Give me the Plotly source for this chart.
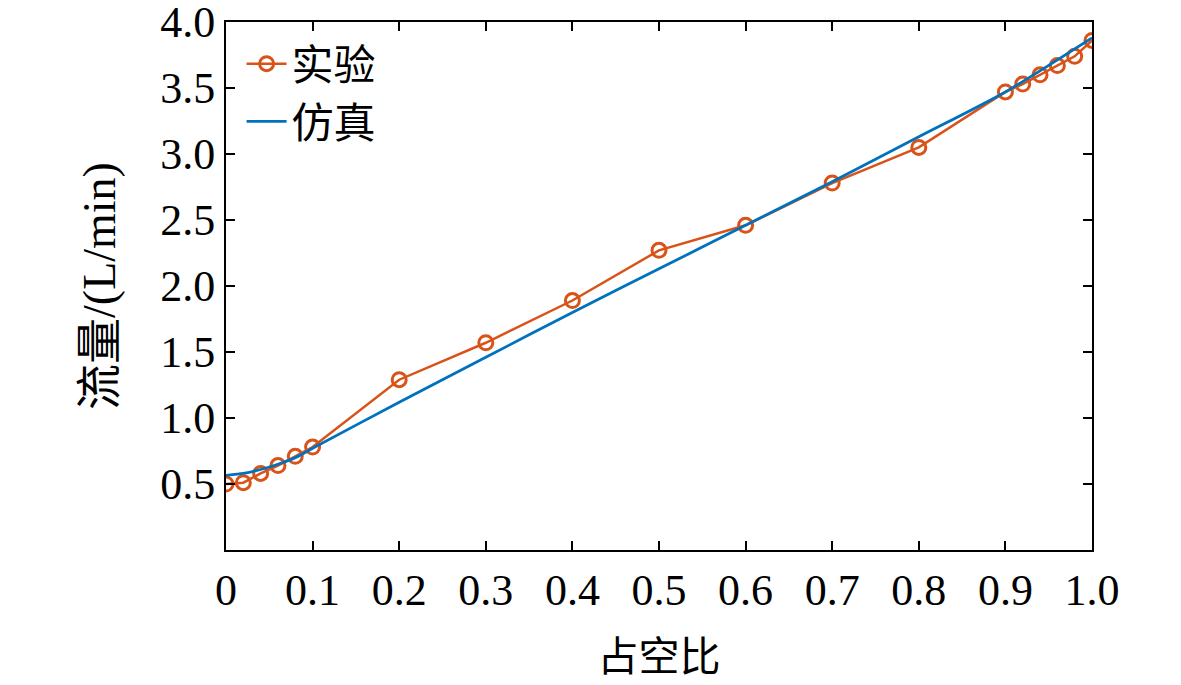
import plotly.graph_objects as go

# 实验数据
exp_x = [0, 0.02, 0.04, 0.06, 0.08, 0.1, 0.2, 0.3, 0.4, 0.5, 0.6, 0.7, 0.8,
         0.9, 0.92, 0.94, 0.96, 0.98, 1.0]
exp_y = [0.50, 0.51, 0.58, 0.64, 0.71, 0.78, 1.29, 1.57, 1.89, 2.27, 2.46, 2.78, 3.05,
         3.47, 3.53, 3.60, 3.67, 3.74, 3.86]

# 仿真数据
sim_x = [0, 0.02, 0.04, 0.06, 0.08, 0.1, 0.2, 0.3, 0.4, 0.5, 0.6, 0.7, 0.8, 0.9, 1.0]
sim_y = [0.565, 0.58, 0.61, 0.65, 0.70, 0.77, 1.12, 1.46, 1.80, 2.13, 2.46, 2.79, 3.13, 3.47, 3.88]

x_ticks = [0, 0.1, 0.2, 0.3, 0.4, 0.5, 0.6, 0.7, 0.8, 0.9, 1.0]
x_labels = ["0", "0.1", "0.2", "0.3", "0.4", "0.5", "0.6", "0.7", "0.8", "0.9", "1.0"]
y_ticks = [0.5, 1.0, 1.5, 2.0, 2.5, 3.0, 3.5, 4.0]
y_labels = ["0.5", "1.0", "1.5", "2.0", "2.5", "3.0", "3.5", "4.0"]

orange = "#D95319"
blue = "#0072BD"
font_fam = "Liberation Serif, Noto Sans CJK SC"

fig = go.Figure()
fig.add_trace(go.Scatter(
    x=exp_x, y=exp_y, name="实验", mode="lines+markers",
    line=dict(color=orange, width=2.5),
    marker=dict(symbol="circle-open", size=14, color=orange, line=dict(width=3)),
))
fig.add_trace(go.Scatter(
    x=sim_x, y=sim_y, name="仿真", mode="lines",
    line=dict(color=blue, width=2.8, shape="spline", smoothing=0.6),
))

axis_common = dict(
    showgrid=False, zeroline=False, showline=True, linecolor="black", linewidth=2,
    mirror="ticks", ticks="inside", ticklen=9, tickwidth=2, tickcolor="black",
    tickfont=dict(family=font_fam, size=44, color="black"), automargin=False,
    ticklabeloverflow="allow",
)

fig.update_xaxes(
    range=[0, 1.0], tickvals=x_ticks, ticktext=x_labels,
    title=dict(text="占空比", font=dict(family=font_fam, size=41, color="black"), standoff=29),
    **axis_common,
)
fig.update_yaxes(
    range=[0, 4.0], tickvals=y_ticks, ticktext=y_labels,
    title=dict(text="流量/(L/min)", font=dict(family=font_fam, size=46, color="black"), standoff=30),
    **axis_common,
)

# 页面 body 有 8px 的边距, 所以这里的边距往回扣
fig.update_layout(
    width=1181, height=685,
    margin=dict(l=218, r=97, t=14, b=143),
    plot_bgcolor="white", paper_bgcolor="white",
    font=dict(family=font_fam, color="black"),
    legend=dict(x=0.018, y=0.985, xanchor="left", yanchor="top",
                font=dict(family=font_fam, size=42, color="black"),
                bgcolor="rgba(0,0,0,0)", itemwidth=40, tracegroupgap=0),
)

fig.write_html("out.html")
